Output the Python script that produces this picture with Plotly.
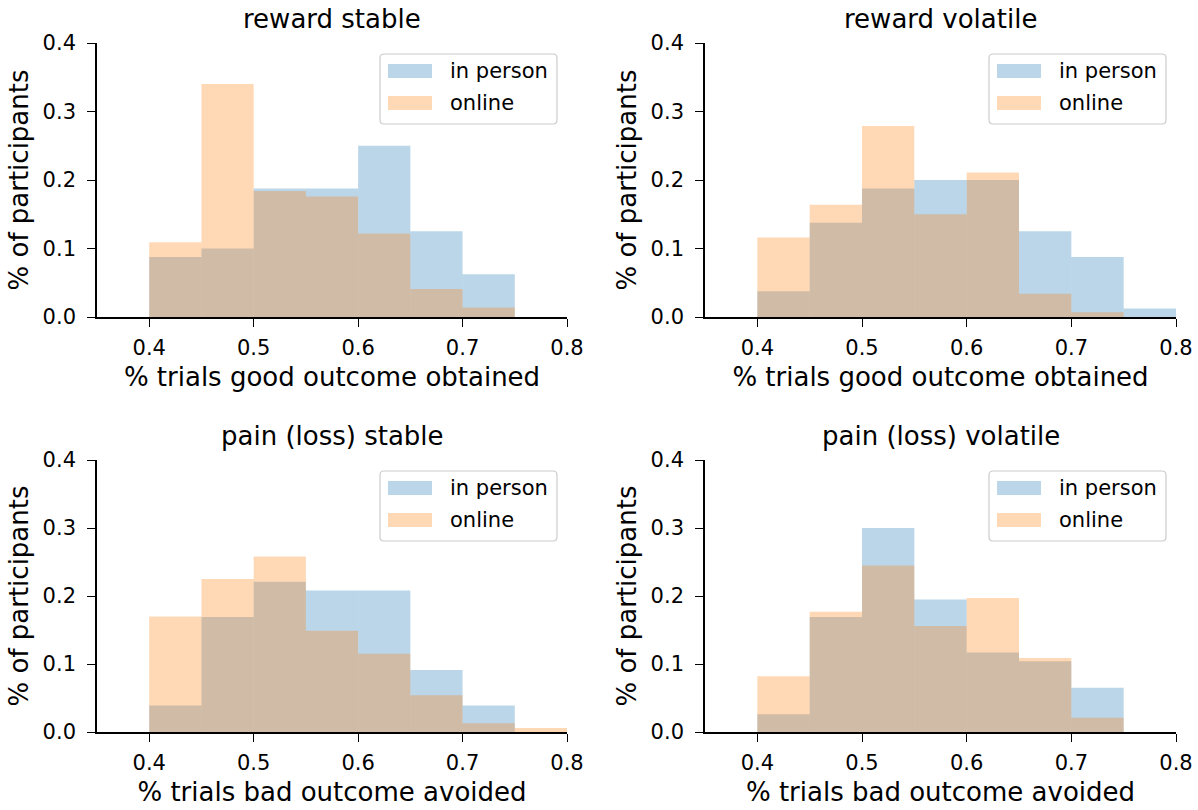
import plotly.graph_objects as go

# Histogram bins (left edges), width 0.05
bin_edges = [0.40, 0.45, 0.50, 0.55, 0.60, 0.65, 0.70, 0.75]
bin_width = 0.05

panel_titles = ["reward stable", "reward volatile", "pain (loss) stable", "pain (loss) volatile"]
x_titles = ["% trials good outcome obtained", "% trials good outcome obtained",
            "% trials bad outcome avoided", "% trials bad outcome avoided"]
series_names = ["in person", "online"]

# fraction of participants per bin
reward_stable_in_person = [0.0875, 0.100, 0.1875, 0.1875, 0.250, 0.125, 0.0625, 0.0]
reward_stable_online = [0.109, 0.340, 0.184, 0.176, 0.122, 0.041, 0.014, 0.0]
reward_volatile_in_person = [0.0375, 0.1375, 0.1875, 0.200, 0.200, 0.125, 0.0875, 0.0125]
reward_volatile_online = [0.116, 0.164, 0.279, 0.150, 0.211, 0.034, 0.007, 0.0]
pain_stable_in_person = [0.039, 0.169, 0.221, 0.208, 0.208, 0.091, 0.039, 0.0]
pain_stable_online = [0.170, 0.225, 0.258, 0.149, 0.115, 0.054, 0.013, 0.006]
pain_volatile_in_person = [0.026, 0.169, 0.300, 0.195, 0.117, 0.104, 0.065, 0.0]
pain_volatile_online = [0.082, 0.177, 0.245, 0.156, 0.197, 0.109, 0.021, 0.0]

panels = [
    (reward_stable_in_person, reward_stable_online),
    (reward_volatile_in_person, reward_volatile_online),
    (pain_stable_in_person, pain_stable_online),
    (pain_volatile_in_person, pain_volatile_online),
]

W, H = 1198, 810
BLUE = "rgba(31,119,180,0.3)"
ORANGE = "rgba(255,127,14,0.3)"
FONT = "DejaVu Sans"
TICK_SIZE = 21
LABEL_SIZE = 26
TITLE_SIZE = 26
LEGEND_SIZE = 21

# subplot frames in pixels: (left, right, top, bottom)
frames = [(97, 567, 43, 317), (705, 1176, 43, 317),
          (97, 567, 460, 732), (705, 1176, 460, 732)]

fig = go.Figure()
layout = dict(
    width=W, height=H,
    margin=dict(l=0, r=0, t=0, b=0),
    paper_bgcolor="white", plot_bgcolor="white",
    barmode="overlay", showlegend=False,
    font=dict(family=FONT, size=TICK_SIZE, color="black"),
)
annotations = []
shapes = []

for i, ((blue_vals, orange_vals), frame) in enumerate(zip(panels, frames)):
    n = i + 1
    xa = "x" if n == 1 else f"x{n}"
    ya = "y" if n == 1 else f"y{n}"
    xkey = "xaxis" if n == 1 else f"xaxis{n}"
    ykey = "yaxis" if n == 1 else f"yaxis{n}"
    l, r, t, b = frame

    for vals, col, name in ((blue_vals, BLUE, series_names[0]),
                            (orange_vals, ORANGE, series_names[1])):
        fig.add_trace(go.Bar(
            x=bin_edges, y=vals, width=bin_width, offset=0,
            marker=dict(color=col, line=dict(width=0)),
            name=name, xaxis=xa, yaxis=ya,
        ))

    axis_common = dict(
        showline=True, linecolor="black", linewidth=1.6, mirror=False,
        ticks="outside", ticklen=8, tickwidth=1.4, tickcolor="black",
        showgrid=False, zeroline=False, automargin=False,
        tickfont=dict(family=FONT, size=TICK_SIZE),
    )
    layout[xkey] = dict(
        axis_common, domain=[l / W, r / W], anchor=ya,
        range=[0.35, 0.8], tick0=0.4, dtick=0.1, tickformat=".1f",
        ticklabelstandoff=3,
        title=dict(text=x_titles[i], font=dict(family=FONT, size=LABEL_SIZE), standoff=9),
    )
    layout[ykey] = dict(
        axis_common, domain=[1 - b / H, 1 - t / H], anchor=xa,
        range=[0, 0.4], tick0=0, dtick=0.1, tickformat=".1f",
        ticklabelstandoff=7,
        title=dict(text="% of participants", font=dict(family=FONT, size=LABEL_SIZE), standoff=6),
    )

    # panel title
    annotations.append(dict(
        text=panel_titles[i], xref="paper", yref="paper",
        x=(l + r) / 2 / W, y=1 - (t - 24) / H, xanchor="center", yanchor="middle",
        showarrow=False, font=dict(family=FONT, size=TITLE_SIZE),
    ))

    # legend frame (rounded), anchored at the upper-right of the axes
    xd = f"{xa} domain"
    yd = f"{ya} domain"
    ax_w, ax_h = r - l, b - t
    ax0 = 1 - 10 / ax_w
    ay0 = 1 - 11 / ax_h
    bw, bh, rad = 177, 70, 4
    path = (f"M {-bw + rad},0 L {-rad},0 Q 0,0 0,{-rad} L 0,{-bh + rad} "
            f"Q 0,{-bh} {-rad},{-bh} L {-bw + rad},{-bh} Q {-bw},{-bh} {-bw},{-bh + rad} "
            f"L {-bw},{-rad} Q {-bw},0 {-bw + rad},0 Z")
    shapes.append(dict(
        type="path", xref=xd, yref=yd, xsizemode="pixel", ysizemode="pixel",
        xanchor=ax0, yanchor=ay0, path=path,
        fillcolor="rgba(255,255,255,0.8)", line=dict(color="#cccccc", width=1.2),
        layer="above",
    ))
    # legend patches and labels
    for k, (col, name) in enumerate(((BLUE, series_names[0]), (ORANGE, series_names[1]))):
        cy = 17 + 32 * k  # pixel offset from box top to item centre
        shapes.append(dict(
            type="rect", xref=xd, yref=yd, xsizemode="pixel", ysizemode="pixel",
            xanchor=ax0, yanchor=ay0,
            x0=-bw + 8, x1=-bw + 52, y0=-cy - 7, y1=-cy + 7,
            fillcolor=col, line=dict(width=0), layer="above",
        ))
        annotations.append(dict(
            text=name, xref=xd, yref=yd,
            x=ax0 - (bw - 68) / ax_w, y=ay0 - cy / ax_h,
            xanchor="left", yanchor="middle", showarrow=False,
            font=dict(family=FONT, size=LEGEND_SIZE),
        ))

layout["annotations"] = annotations
layout["shapes"] = shapes
fig.update_layout(**layout)
fig.write_html("out.html")
